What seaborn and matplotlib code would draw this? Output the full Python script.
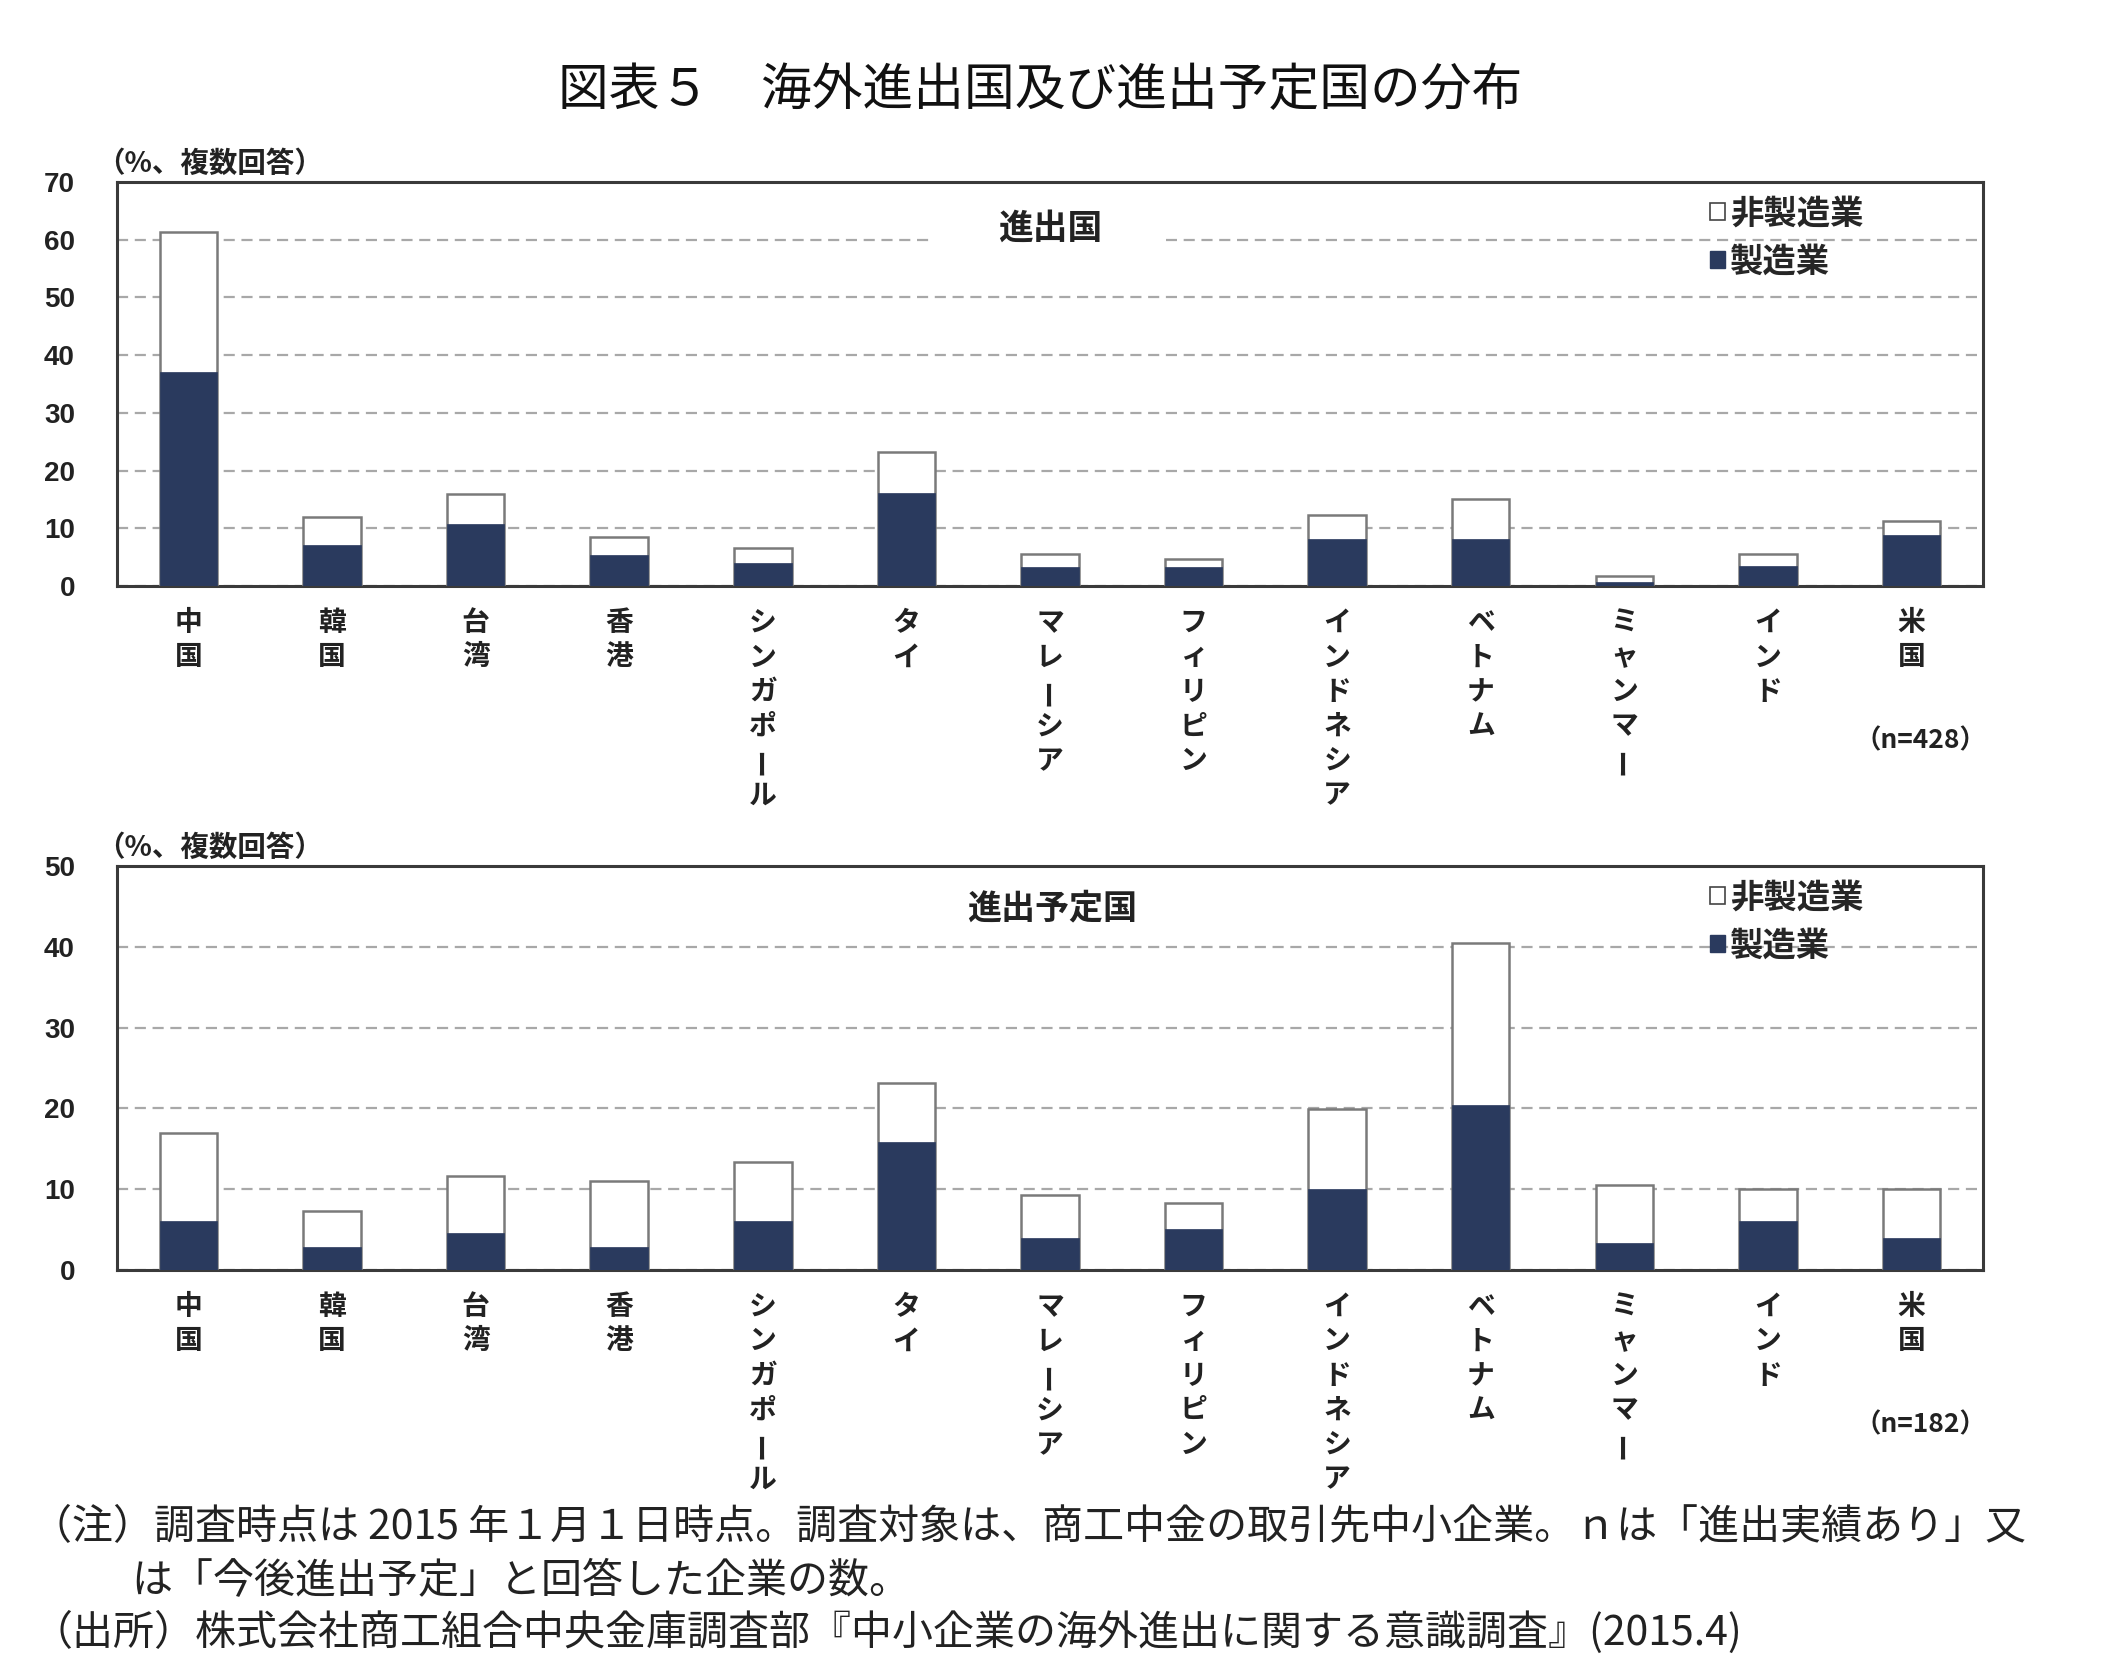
import numpy as np
import pandas as pd
import matplotlib
matplotlib.use("Agg")
import matplotlib.pyplot as plt
import matplotlib.transforms as mtrans
from matplotlib.patches import Patch, Rectangle
import seaborn as sns

# ---------------- data ----------------
categories = ['中国', '韓国', '台湾', '香港', 'シンガポール', 'タイ', 'マレーシア',
              'フィリピン', 'インドネシア', 'ベトナム', 'ミャンマー', 'インド', '米国']

# 進出国 (n=428)
current_mfg = [37.1, 7.1, 10.7, 5.3, 3.9, 16.1, 3.2, 3.2, 8.2, 8.2, 0.7, 3.5, 8.8]
current_nonmfg = [24.3, 4.9, 5.2, 3.1, 2.7, 7.2, 2.4, 1.5, 4.1, 6.9, 1.0, 2.1, 2.4]

# 進出予定国 (n=182)
planned_mfg = [6.1, 2.8, 4.6, 2.8, 6.1, 15.8, 4.0, 5.1, 10.0, 20.4, 3.3, 6.1, 4.0]
planned_nonmfg = [10.9, 4.5, 7.0, 8.2, 7.2, 7.3, 5.3, 3.2, 9.9, 20.1, 7.2, 3.9, 6.0]

yticks_top = [0, 10, 20, 30, 40, 50, 60, 70]
yticks_bottom = [0, 10, 20, 30, 40, 50]

title = '図表５　海外進出国及び進出予定国の分布'
ylabel = '（%、複数回答）'
legend_labels = ['非製造業', '製造業']
notes = ['（注）調査時点は 2015 年１月１日時点。調査対象は、商工中金の取引先中小企業。ｎは「進出実績あり」又',
         'は「今後進出予定」と回答した企業の数。',
         '（出所）株式会社商工組合中央金庫調査部『中小企業の海外進出に関する意識調査』(2015.4)']

NAVY = '#2a3a5e'
EDGE = '#7a7a7a'
TXT = '#222222'

sns.set_style('white')
plt.rcParams['font.family'] = ['Noto Sans CJK JP', 'DejaVu Sans']

fig = plt.figure(figsize=(21.02, 16.78), dpi=100)
ax1 = fig.add_axes([0.0555, 0.6508, 0.888, 0.2407])
ax2 = fig.add_axes([0.0555, 0.2432, 0.888, 0.2407])


def draw(ax, mfg, nonmfg, yticks, panel_label, panel_size, n_label, panel_xy, mask):
    df = pd.DataFrame({
        '国': pd.Categorical(categories, categories=categories, ordered=True),
        '製造業': mfg,
        '非製造業': nonmfg,
    })
    df['合計'] = df['製造業'] + df['非製造業']
    sns.barplot(data=df, x='国', y='合計', ax=ax, color='white', edgecolor=EDGE,
                linewidth=1.8, width=0.4, saturation=1, errorbar=None, zorder=3)
    sns.barplot(data=df, x='国', y='製造業', ax=ax, color=NAVY, edgecolor=NAVY,
                linewidth=0.5, width=0.4, saturation=1, errorbar=None, zorder=4)
    ax.set_xlim(-0.5, len(categories) - 0.5)
    ax.set_ylim(yticks[0], yticks[-1])
    ax.set_yticks(yticks)
    ax.set_yticklabels([str(v) for v in yticks], fontsize=20, fontweight='bold',
                       color=TXT, family=['Liberation Sans', 'DejaVu Sans'])
    ax.set_xlabel('')
    ax.set_ylabel('')
    ax.set_xticks(range(len(categories)))
    ax.set_xticklabels([''] * len(categories))
    ax.tick_params(axis='x', length=0)
    ax.tick_params(axis='y', direction='in', length=6, width=2.5, color='#333333', pad=30)
    ax.set_axisbelow(True)
    ax.yaxis.grid(True, linestyle=(0, (5, 3)), color='#a8a8a8', linewidth=1.6)
    for s in ax.spines.values():
        s.set_visible(True)
        s.set_color('#3a3a3a')
        s.set_linewidth(2.2)

    # vertical category labels
    for i, cat in enumerate(categories):
        for j, ch in enumerate(cat):
            tr = ax.get_xaxis_transform() + mtrans.ScaledTranslation(
                0, -(37 + 34.5 * j) / 100.0, fig.dpi_scale_trans)
            ax.text(i, 0, ch, transform=tr, ha='center', va='center',
                    rotation=90 if ch == 'ー' else 0, rotation_mode='anchor',
                    fontsize=20, fontweight='bold', color=TXT)

    ax.text(-0.011, 1.045, ylabel, transform=ax.transAxes, ha='left', va='center',
            fontsize=20.5, fontweight='bold', color=TXT)
    ax.text(panel_xy[0], panel_xy[1], panel_label, transform=ax.transAxes,
            ha='center', va='center', fontsize=panel_size, fontweight='bold', color=TXT, zorder=5)
    if mask is not None:
        bt = mtrans.blended_transform_factory(ax.transAxes, ax.transData)
        ax.add_patch(Rectangle((mask[0], mask[2]), mask[1] - mask[0], mask[3] - mask[2],
                               transform=bt, facecolor='white', edgecolor='none', zorder=1))
    ax.text(0.9665, -0.384, n_label, transform=ax.transAxes, ha='center', va='center',
            fontsize=19, fontweight='bold', color=TXT)

    handles = [Patch(facecolor='white', edgecolor='#444444', linewidth=1.2, label=legend_labels[0]),
               Patch(facecolor=NAVY, edgecolor=NAVY, label=legend_labels[1])]
    ax.legend(handles=handles, loc='upper left', bbox_to_anchor=(0.8535, 0.962),
              frameon=False, handlelength=0.45, handleheight=0.45, handletextpad=0.15,
              labelspacing=0.45, borderaxespad=0, borderpad=0,
              prop={'size': 24, 'weight': 'bold'})


draw(ax1, current_mfg, current_nonmfg, yticks_top, '進出国', 25, '（n=428）',
     (0.5002, 0.886), (0.438, 0.562, 56, 64))
draw(ax2, planned_mfg, planned_nonmfg, yticks_bottom, '進出予定国', 24.5, '（n=182）',
     (0.501, 0.896), None)

fig.text(0.4946, 0.9458, title, ha='center', va='center', fontsize=36.5, color='#111111')
fig.text(0.0148, 0.0894, notes[0], ha='left', va='center', fontsize=29.5, color='#222222')
fig.text(0.0623, 0.0572, notes[1], ha='left', va='center', fontsize=29.5, color='#222222')
fig.text(0.0148, 0.0274, notes[2], ha='left', va='center', fontsize=29.5, color='#222222')

fig.savefig('out.png', dpi=100, facecolor='white')
